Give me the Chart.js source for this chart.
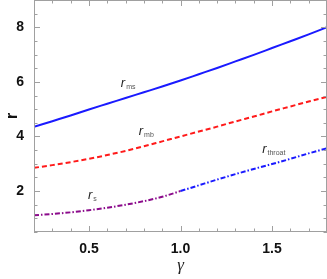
<!DOCTYPE html>
<html>
<head>
<meta charset="utf-8">
<script src="https://cdn.jsdelivr.net/npm/chart.js@4"></script>
<style>
html, body { margin: 0; padding: 0; background: #fff; }
</style>
</head>
<body>
<canvas id="chart" width="327" height="279"></canvas>
<script>
// values
const gamma   = [0.2, 0.3, 0.4, 0.5, 0.6, 0.7, 0.8, 0.9, 1.0, 1.1, 1.2, 1.3, 1.4, 1.5, 1.6, 1.7, 1.8];
const rMs     = [4.35, 4.56, 4.77, 4.99, 5.2, 5.41, 5.62, 5.83, 6.05, 6.28, 6.51, 6.75, 6.99, 7.24, 7.49, 7.74, 8.0];
const rMb     = [2.85, 2.95, 3.06, 3.18, 3.32, 3.47, 3.64, 3.82, 4.0, 4.18, 4.36, 4.55, 4.73, 4.92, 5.1, 5.28, 5.45];
const rS      = [1.11, 1.16, 1.22, 1.3, 1.39, 1.5, 1.63, 1.79, 2.0, null, null, null, null, null, null, null, null];
const rThroat = [null, null, null, null, null, null, null, null, 2.0, 2.21, 2.42, 2.62, 2.81, 2.99, 3.18, 3.38, 3.57];
const xTicks = [0.5, 1.0, 1.5];
const yTicks = [2, 4, 6, 8];
const curveLabels = [
  { main: 'r', sub: 'ms', x: 0.674, y: 5.82 },
  { main: 'r', sub: 'mb', x: 0.772, y: 4.07 },
  { main: 'r', sub: 'throat', x: 1.446, y: 3.41 },
  { main: 'r', sub: 's', x: 0.495, y: 1.70 }
];

const toPoints = vals => gamma.map((g, i) => ({ x: g, y: vals[i] }));
// r_s below gamma = 1, r_throat above: one curve, coloured per segment
const lowerCurve = gamma.map((g, i) => ({ x: g, y: rS[i] !== null ? rS[i] : rThroat[i] }));

const framePlugin = {
  id: 'frame',
  afterDatasetsDraw(chart) {
    const { ctx, chartArea: a, scales: { x, y } } = chart;
    ctx.save();
    ctx.strokeStyle = '#a0a0a0';
    ctx.lineWidth = 1;
    ctx.strokeRect(a.left + 0.5, a.top + 0.5, a.right - a.left - 1, a.bottom - a.top - 1);
    ctx.beginPath();
    for (let i = 2; i <= 18; i++) {
      const px = Math.round(x.getPixelForValue(i / 10)) + 0.5;
      const len = i % 5 === 0 ? 6 : 3.5;
      ctx.moveTo(px, a.bottom); ctx.lineTo(px, a.bottom - len);
      ctx.moveTo(px, a.top); ctx.lineTo(px, a.top + len);
    }
    for (let i = 1; i <= 18; i++) {
      const v = i / 2;
      const py = Math.round(y.getPixelForValue(v)) + 0.5;
      const len = v % 2 === 0 ? 6 : 3.5;
      ctx.moveTo(a.left, py); ctx.lineTo(a.left + len, py);
      ctx.moveTo(a.right, py); ctx.lineTo(a.right - len, py);
    }
    ctx.stroke();

    ctx.textBaseline = 'alphabetic';
    ctx.textAlign = 'left';
    curveLabels.forEach(l => {
      const px = x.getPixelForValue(l.x);
      const py = y.getPixelForValue(l.y);
      ctx.font = 'italic 13px "Liberation Sans"';
      ctx.fillStyle = '#222';
      ctx.fillText(l.main, px, py);
      const w = ctx.measureText(l.main).width;
      ctx.font = '7px "Liberation Sans"';
      ctx.fillStyle = '#555';
      ctx.fillText(l.sub, px + w + 1, py + 2);
    });
    ctx.restore();
  }
};

new Chart(document.getElementById('chart'), {
  type: 'line',
  data: {
    datasets: [
      { label: 'r_ms', data: toPoints(rMs), borderColor: '#1a1aff', borderWidth: 2, pointRadius: 0, cubicInterpolationMode: 'monotone' },
      { label: 'r_mb', data: toPoints(rMb), borderColor: '#ff1a1a', borderWidth: 2, borderDash: [5, 3], pointRadius: 0, cubicInterpolationMode: 'monotone' },
      {
        label: 'r_s / r_throat',
        data: lowerCurve,
        borderColor: '#1a1aff',
        borderWidth: 2,
        borderDash: [5, 2, 1.5, 2],
        pointRadius: 0,
        cubicInterpolationMode: 'monotone',
        segment: { borderColor: c => c.p0.parsed.x < 1 ? '#8b0a8b' : '#1a1aff' }
      }
    ]
  },
  options: {
    responsive: false,
    animation: false,
    devicePixelRatio: 1,
    layout: { padding: { top: 0, right: 0, left: 0, bottom: 0 } },
    plugins: { legend: { display: false }, tooltip: { enabled: false } },
    scales: {
      x: {
        type: 'linear',
        min: 0.2,
        max: 1.8,
        afterBuildTicks: s => { s.ticks = xTicks.map(v => ({ value: v })); },
        afterFit: s => { s.height = 47; s.paddingLeft = 0; s.paddingRight = 0; },
        grid: { display: false },
        border: { display: false },
        ticks: {
          padding: 1,
          color: '#111',
          font: { family: 'Liberation Sans', size: 14, weight: 'bold' },
          callback: v => v.toFixed(1)
        },
        title: {
          display: true,
          text: 'γ',
          color: '#222',
          padding: { top: 0, bottom: 3 },
          font: { family: 'Liberation Serif', size: 17, style: 'italic' }
        }
      },
      y: {
        min: 0.5,
        max: 9,
        afterBuildTicks: s => { s.ticks = yTicks.map(v => ({ value: v })); },
        afterFit: s => { s.width = 34; s.paddingTop = 0; s.paddingBottom = 0; },
        grid: { display: false },
        border: { display: false },
        ticks: {
          padding: 2,
          color: '#111',
          font: { family: 'Liberation Sans', size: 14, weight: 'bold' }
        },
        title: {
          display: true,
          text: 'r',
          color: '#111',
          padding: { top: 3, bottom: 0 },
          font: { family: 'Liberation Sans', size: 16, weight: 'bold' }
        }
      }
    }
  },
  plugins: [framePlugin]
});
</script>
</body>
</html>
